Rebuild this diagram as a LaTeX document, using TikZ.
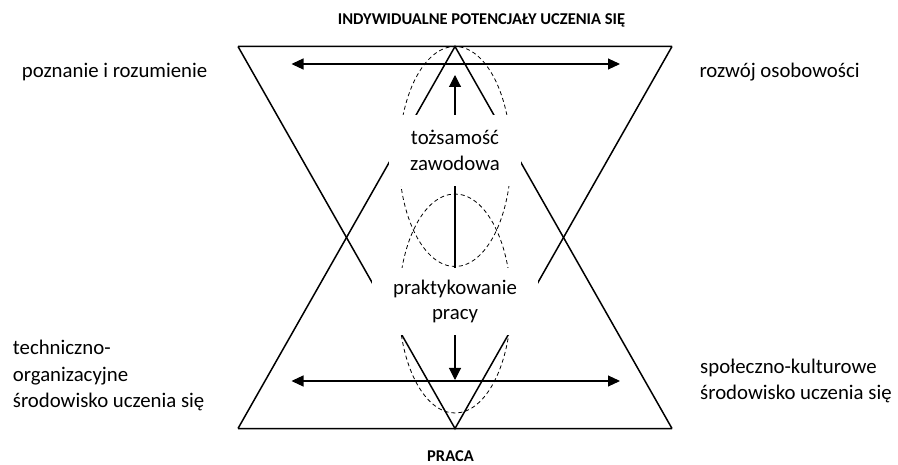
\documentclass[tikz,border=0pt]{standalone}
\usepackage{fontspec}
\setmainfont{Carlito}
\usetikzlibrary{arrows.meta}

\begin{document}
\begin{tikzpicture}[
  x=1pt, y=-1pt,
  edge/.style={line width=1.5pt},
  ell/.style={dash pattern=on 4pt off 3pt, line width=0.8pt},
  arr/.style={-{Triangle[length=12pt,width=12pt]}, line width=1.1pt},
  dbl/.style={{Triangle[length=12pt,width=11pt]}-{Triangle[length=12pt,width=11pt]}, line width=1.1pt},
  core/.style={fill=white, align=center, inner sep=0pt,
    font=\fontsize{20.8}{25.5}\selectfont},
  side/.style={align=left, anchor=west, inner sep=0pt,
    font=\fontsize{20.8}{26.5}\selectfont},
  head/.style={inner sep=0pt, font=\bfseries\fontsize{16.5}{20}\selectfont}
]
  \useasboundingbox (0,0) rectangle (898,465);
  \coordinate (TL) at (238,46.5);
  \coordinate (TR) at (672,46.5);
  \coordinate (BL) at (238,428.5);
  \coordinate (BR) at (672,428.5);
  \coordinate (apexT) at (455,46.5);
  \coordinate (apexB) at (455,428.5);
  \draw[edge] (TL) -- (TR) (TL) -- (apexB) -- (TR);
  \draw[edge] (BL) -- (BR) (BL) -- (apexT) -- (BR);
  \draw[ell] (455,156.5) ellipse [x radius=56, y radius=110];
  \draw[ell] (455,303.5) ellipse [x radius=56, y radius=109.5];
  %
  \coordinate (topL) at (291.5,64);
  \coordinate (topR) at (620,64);
  \coordinate (botL) at (291.5,381);
  \coordinate (botR) at (620,381);
  \draw[dbl] (topL) -- (topR);
  \draw[dbl] (botL) -- (botR);
  %
  \node[core, minimum width=132pt, minimum height=71pt] (tz) at (455,150.5)
    {tożsamość\\zawodowa};
  \node[core, minimum width=166pt, minimum height=67pt] (pr) at (455,301.5)
    {praktykowanie\\pracy};
  \coordinate (upTip) at (455,75);
  \coordinate (dnTip) at (455,380);
  \draw[arr] (tz) -- (upTip);
  \draw[edge, line width=1.1pt] (tz) -- (pr);
  \draw[arr] (pr) -- (dnTip);
  %
  \node[head] (ipu) at (481.5,20) {INDYWIDUALNE POTENCJAŁY UCZENIA SIĘ};
  \node[head] (praca) at (450.5,456.5) {PRACA};
  \node[side] (poz) at (21.7,72) {poznanie i rozumienie};
  \node[side] (roz) at (699.3,72) {rozwój osobowości};
  \node[side] (tech) at (12.7,375.5) {techniczno-\\organizacyjne\\środowisko uczenia się};
  \node[side] (spol) at (700,381) {społeczno-kulturowe\\środowisko uczenia się};
\end{tikzpicture}
\end{document}
